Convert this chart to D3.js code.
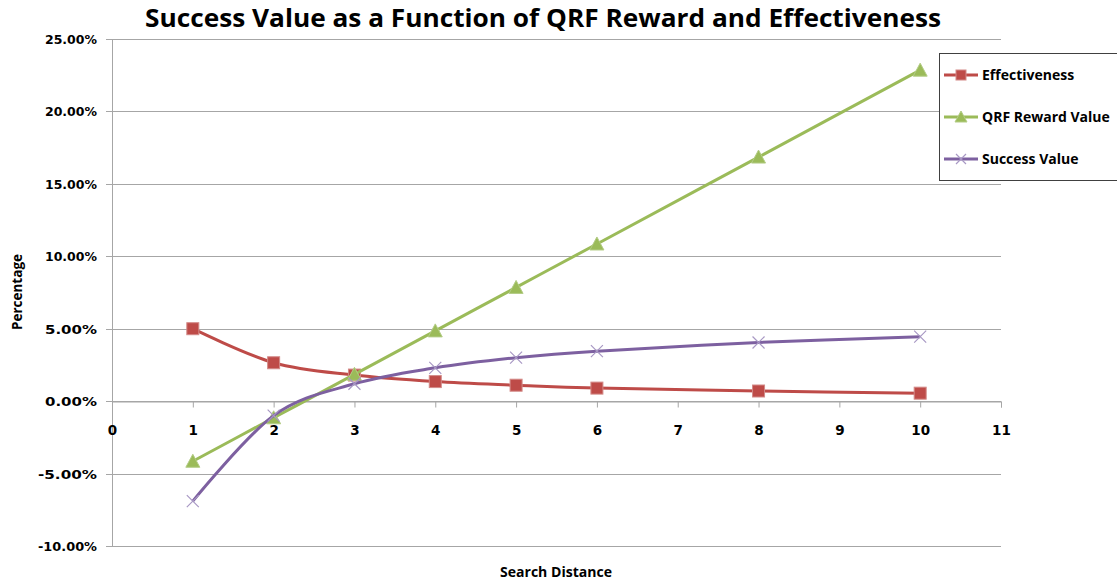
<!DOCTYPE html>
<html>
<head>
<meta charset="utf-8">
<script src="https://cdn.jsdelivr.net/npm/d3@7"></script>
<style>
    body { margin: 0; background: #fff; }
    svg { display: block; }
</style>
</head>
<body>
<svg id="chart" width="1117" height="581"></svg>
<script>
'use strict';

var distances = [1, 2, 3, 4, 5, 6, 8, 10];
var effectiveness = [0.0500, 0.0265, 0.0180, 0.0135, 0.0110, 0.0090, 0.0070, 0.0055];
var qrfReward = [-0.0415, -0.0115, 0.0185, 0.0485, 0.0785, 0.1085, 0.1685, 0.2285];
var successValue = [-0.0690, -0.0100, 0.0120, 0.0230, 0.0300, 0.0345, 0.0405, 0.0445];
var seriesNames = ['Effectiveness', 'QRF Reward Value', 'Success Value'];
var xTicks = [0, 1, 2, 3, 4, 5, 6, 7, 8, 9, 10, 11];
var yTicks = [-0.10, -0.05, 0, 0.05, 0.10, 0.15, 0.20, 0.25];

var svg = d3.select('#chart');
var x = d3.scaleLinear().domain([0, 11]).range([112, 1001]);
var y = d3.scaleLinear().domain([-0.10, 0.25]).range([546, 39]);
var gridColor = '#a6a6a6';
var tickFont = '"DejaVu Sans", Verdana, sans-serif';
var sansFont = '"Open Sans", "DejaVu Sans", sans-serif';
var pct = d3.formatLocale({decimal: '.', thousands: ',', grouping: [3], currency: ['', ''], minus: '-'}).format('.2%');

var series = [
    {name: seriesNames[0], values: effectiveness, color: '#be4b48', marker: 'square'},
    {name: seriesNames[1], values: qrfReward, color: '#9bbb59', marker: 'triangle'},
    {name: seriesNames[2], values: successValue, color: '#7d60a0', marker: 'cross'}
];

// horizontal grid
svg.append('g')
    .selectAll('line')
    .data(yTicks)
    .enter()
    .append('line')
    .attr('x1', x(0) - 6)
    .attr('x2', x(11))
    .attr('y1', function (d) { return Math.round(y(d)) + 0.5; })
    .attr('y2', function (d) { return Math.round(y(d)) + 0.5; })
    .attr('stroke', gridColor)
    .attr('stroke-width', 1);

// y axis line
svg.append('line')
    .attr('x1', x(0) + 0.5).attr('x2', x(0) + 0.5)
    .attr('y1', y(0.25)).attr('y2', y(-0.10))
    .attr('stroke', gridColor);

// x axis at zero
var xAxis = d3.axisBottom(x)
    .tickValues(xTicks)
    .tickSize(6)
    .tickPadding(18)
    .tickFormat(d3.format('d'));

var gx = svg.append('g')
    .attr('transform', 'translate(0,' + (Math.round(y(0)) + 0.5) + ')')
    .call(xAxis);
gx.select('.domain').attr('stroke', gridColor);
gx.selectAll('.tick line').attr('stroke', gridColor);
gx.selectAll('.tick text')
    .attr('fill', '#000')
    .style('font-family', tickFont)
    .style('font-weight', 'bold')
    .style('font-size', '13.5px');

// y tick labels
svg.append('g')
    .selectAll('text')
    .data(yTicks)
    .enter()
    .append('text')
    .attr('x', x(0) - 15)
    .attr('y', function (d) { return y(d) + 5; })
    .attr('text-anchor', 'end')
    .style('font-family', tickFont)
    .style('font-weight', 'bold')
    .style('font-size', '13px')
    .attr('textLength', function (d) { return d < 0 ? 59 : 52; })
    .attr('lengthAdjust', 'spacingAndGlyphs')
    .text(function (d) { return pct(d); });

// lines
var line = d3.line()
    .x(function (d) { return x(d[0]); })
    .y(function (d) { return y(d[1]); })
    .curve(d3.curveCardinal.tension(0));

function drawMarker(g, type, color, size) {
    if (type === 'square') {
        g.append('rect')
            .attr('x', -size / 2).attr('y', -size / 2)
            .attr('width', size).attr('height', size)
            .attr('fill', color)
            .attr('stroke', '#d38a88')
            .attr('stroke-width', 1);
    } else if (type === 'triangle') {
        g.append('path')
            .attr('d', 'M0,' + (-size / 2 - 1) + 'L' + (size / 2 + 1) + ',' + (size / 2) + 'L' + (-size / 2 - 1) + ',' + (size / 2) + 'Z')
            .attr('fill', color)
            .attr('stroke', '#b3cc85')
            .attr('stroke-width', 1);
    } else {
        g.append('path')
            .attr('d', 'M' + (-size / 2) + ',' + (-size / 2) + 'L' + (size / 2) + ',' + (size / 2) +
                'M' + (size / 2) + ',' + (-size / 2) + 'L' + (-size / 2) + ',' + (size / 2))
            .attr('fill', 'none')
            .attr('stroke', '#a898c4')
            .attr('stroke-width', 1.2);
    }
}

series.forEach(function (s) {
    var pts = distances.map(function (d, i) { return [d, s.values[i]]; });

    svg.append('path')
        .datum(pts)
        .attr('d', line)
        .attr('fill', 'none')
        .attr('stroke', s.color)
        .attr('stroke-width', 3);

    svg.append('g')
        .selectAll('g')
        .data(pts)
        .enter()
        .append('g')
        .attr('transform', function (d) { return 'translate(' + x(d[0]) + ',' + y(d[1]) + ')'; })
        .each(function () { drawMarker(d3.select(this), s.marker, s.color, 12); });
});

// title
svg.append('text')
    .attr('x', 543)
    .attr('y', 27)
    .attr('text-anchor', 'middle')
    .style('font-family', sansFont)
    .style('font-weight', 'bold')
    .style('font-size', '25px')
    .attr('textLength', 796)
    .attr('lengthAdjust', 'spacingAndGlyphs')
    .text('Success Value as a Function of QRF Reward and Effectiveness');

// axis titles
svg.append('text')
    .attr('transform', 'translate(22,292) rotate(-90)')
    .attr('text-anchor', 'middle')
    .style('font-family', sansFont)
    .style('font-weight', 'bold')
    .style('font-size', '13.5px')
    .text('Percentage');

svg.append('text')
    .attr('x', 556)
    .attr('y', 577)
    .attr('text-anchor', 'middle')
    .style('font-family', sansFont)
    .style('font-weight', 'bold')
    .style('font-size', '14px')
    .attr('textLength', 112)
    .attr('lengthAdjust', 'spacingAndGlyphs')
    .text('Search Distance');

// legend
var legend = svg.append('g');
legend.append('rect')
    .attr('x', 939.5).attr('y', 53.5)
    .attr('width', 190).attr('height', 127)
    .attr('fill', '#fff')
    .attr('stroke', '#404040')
    .attr('stroke-width', 1);

var rows = legend.selectAll('g.row')
    .data(series)
    .enter()
    .append('g')
    .attr('class', 'row')
    .attr('transform', function (d, i) { return 'translate(944,' + (75 + i * 42) + ')'; });

rows.append('line')
    .attr('x1', 0).attr('x2', 34)
    .attr('y1', 0).attr('y2', 0)
    .attr('stroke', function (d) { return d.color; })
    .attr('stroke-width', 3);

rows.append('g')
    .attr('transform', 'translate(17,0)')
    .each(function (d) { drawMarker(d3.select(this), d.marker, d.color, 10); });

rows.append('text')
    .attr('x', 38)
    .attr('y', 5)
    .style('font-family', sansFont)
    .style('font-weight', 'bold')
    .style('font-size', '14px')
    .text(function (d) { return d.name; });
</script>
</body>
</html>
